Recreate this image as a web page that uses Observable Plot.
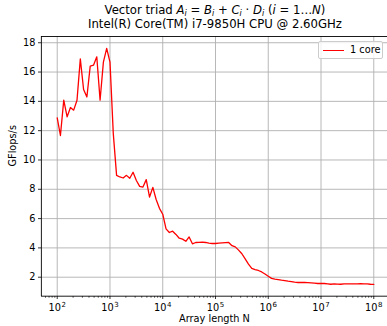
<!DOCTYPE html>
<html>
<head>
<meta charset="utf-8">
<script src="https://cdn.jsdelivr.net/npm/d3@7"></script>
<script src="https://cdn.jsdelivr.net/npm/@observablehq/plot@0.6"></script>
<style>
  html, body { margin: 0; padding: 0; background: white; overflow: hidden; }
  #wrap { position: relative; width: 387px; height: 326px; font-family: "DejaVu Sans", sans-serif; color: black; }
  #title { position: absolute; left: 0; top: 3px; width: 430px; text-align: center; font-size: 11.7px; line-height: 14px; }
  #title sub { font-size: 8px; vertical-align: -2px; line-height: 0; }
  #legend { position: absolute; left: 318px; top: 41px; width: 65px; height: 18px; border: 1px solid #cccccc; border-radius: 2px; background: rgba(255,255,255,0.8); font-size: 9.75px; box-sizing: border-box; }
  #legend .sw { position: absolute; left: 4px; top: 8px; width: 21px; height: 0; border-top: 1.3px solid red; }
  #legend .lb { position: absolute; left: 31px; top: 2px; line-height: 12px; }
</style>
</head>
<body>
<div id="wrap">
  <div id="chart"></div>
  <div id="title">Vector triad <i>A<sub>i</sub></i> = <i>B<sub>i</sub></i> + <i>C<sub>i</sub></i> · <i>D<sub>i</sub></i> (<i>i</i> = 1…<i>N</i>)<br>Intel(R) Core(TM) i7-9850H CPU @ 2.60GHz</div>
  <div id="legend"><div class="sw"></div><div class="lb" id="lb"></div></div>
</div>
<script>
const seriesName = "1 core";
const arrayLength = [
  100, 115, 133, 154, 178, 205, 237, 274, 316, 365, 422, 487, 562, 649, 750, 866,
  1000, 1155, 1334, 1540, 1778, 2054, 2371, 2738, 3162, 3652, 4217, 4870, 5623, 6494, 7499, 8660,
  10000, 11548, 13335, 15399, 17783, 20535, 23714, 27384, 31623, 36517, 42170, 48697, 56234, 64938, 74989, 86596,
  100000, 115478, 133352, 153993, 177828, 205353, 237137, 273842, 316228, 365174, 421697, 486968, 562341, 649382, 749894, 865964,
  1000000, 1154782, 1333521, 1539927, 1778279, 2053525, 2371374, 2738420, 3162278, 3651741, 4216965, 4869675, 5623413, 6493816, 7498942, 8659643,
  10000000, 11547820, 13335214, 15399265, 17782794, 20535250, 23713737, 27384196, 31622777, 36517413, 42169650, 48696753, 56234133, 64938163, 74989421, 86596432,
  100000000
];
const gflops = [
  12.87, 11.67, 14.08, 12.94, 13.58, 13.40, 14.08, 16.90, 14.81, 14.30, 16.40, 16.47, 17.04, 14.08, 16.68, 17.62,
  16.68, 11.80, 8.95, 8.84, 8.77, 8.95, 8.75, 9.16, 8.60, 8.20, 8.15, 8.66, 7.47, 8.13, 7.30, 6.70,
  6.30, 5.30, 5.05, 5.14, 4.92, 4.66, 4.60, 4.45, 4.75, 4.28, 4.37, 4.38, 4.39, 4.37, 4.32, 4.30,
  4.30, 4.32, 4.34, 4.36, 4.37, 4.15, 4.07, 3.85, 3.60, 3.25, 2.90, 2.60, 2.52, 2.46, 2.36, 2.22,
  2.07, 1.92, 1.87, 1.84, 1.80, 1.77, 1.73, 1.70, 1.66, 1.64, 1.64, 1.64, 1.63, 1.61, 1.59, 1.57,
  1.57, 1.57, 1.55, 1.52, 1.54, 1.53, 1.52, 1.54, 1.54, 1.55, 1.55, 1.55, 1.56, 1.55, 1.54, 1.52,
  1.51
];
const xTicks = [1e2, 1e3, 1e4, 1e5, 1e6, 1e7, 1e8];
const xTickBase = "10";
const xTickExponents = ["2", "3", "4", "5", "6", "7", "8"];
const yTicks = [2, 4, 6, 8, 10, 12, 14, 16, 18];
const xLabel = "Array length N";
const yLabel = "GFlops/s";

const data = arrayLength.map((n, i) => ({n, g: gflops[i]}));
const xDomain = [Math.pow(10, 1.7), Math.pow(10, 8.3)];
const yDomain = [0.7045, 18.4255];
const minorTicks = [];
for (let e = 1; e <= 8; e++) for (let m = 2; m <= 9; m++) {
  const v = m * Math.pow(10, e);
  if (v > xDomain[0] && v < xDomain[1]) minorTicks.push(v);
}

const chart = Plot.plot({
  width: 387, height: 326,
  marginLeft: 41, marginRight: 0, marginTop: 36, marginBottom: 30,
  style: {fontFamily: "DejaVu Sans", fontSize: "9.75px", color: "black", background: "white"},
  x: {type: "log", domain: xDomain, range: [40.9, 389.1]},
  y: {domain: yDomain, range: [295.7, 36]},
  marks: [
    Plot.gridX(xTicks, {stroke: "#b0b0b0", strokeOpacity: 1, strokeWidth: 0.9}),
    Plot.gridY(yTicks, {stroke: "#b0b0b0", strokeOpacity: 1, strokeWidth: 0.9}),
    Plot.lineY(data, {x: "n", y: "g", stroke: "red", strokeWidth: 1.3}),
    Plot.ruleX([xDomain[0]], {stroke: "black", strokeWidth: 0.9}),
    Plot.ruleY(yDomain, {stroke: "black", strokeWidth: 0.9}),
    Plot.axisX(minorTicks, {tickSize: 1.8, text: null, strokeWidth: 0.6, label: null}),
    Plot.axisX(xTicks, {tickSize: 3, tickPadding: 5, strokeWidth: 0.8, tickFormat: d => "x" + xTicks.indexOf(d), label: null, ariaLabel: "xmajor"}),
    Plot.axisY(yTicks, {tickSize: 3, tickPadding: 3, strokeWidth: 0.8, label: null}),
    Plot.text([yLabel], {frameAnchor: "left", dx: -29, rotate: -90, text: d => d, fontSize: 9.75}),
    Plot.text([xLabel], {frameAnchor: "bottom", dy: 25, text: d => d, fontSize: 9.75})
  ]
});
document.getElementById("chart").appendChild(chart);
document.getElementById("lb").textContent = seriesName;

// Render exponent as a real superscript tspan (like matplotlib mathtext)
chart.querySelectorAll("text").forEach(t => {
  const m = /^x(\d+)$/.exec(t.textContent);
  if (!m) return;
  const i = +m[1];
  t.textContent = "";
  const ns = "http://www.w3.org/2000/svg";
  const a = document.createElementNS(ns, "tspan");
  a.textContent = xTickBase;
  const b = document.createElementNS(ns, "tspan");
  b.textContent = xTickExponents[i];
  b.setAttribute("font-size", "7px");
  b.setAttribute("dy", "-4");
  b.setAttribute("dx", "0.5");
  t.appendChild(a); t.appendChild(b);
});
</script>
</body>
</html>
